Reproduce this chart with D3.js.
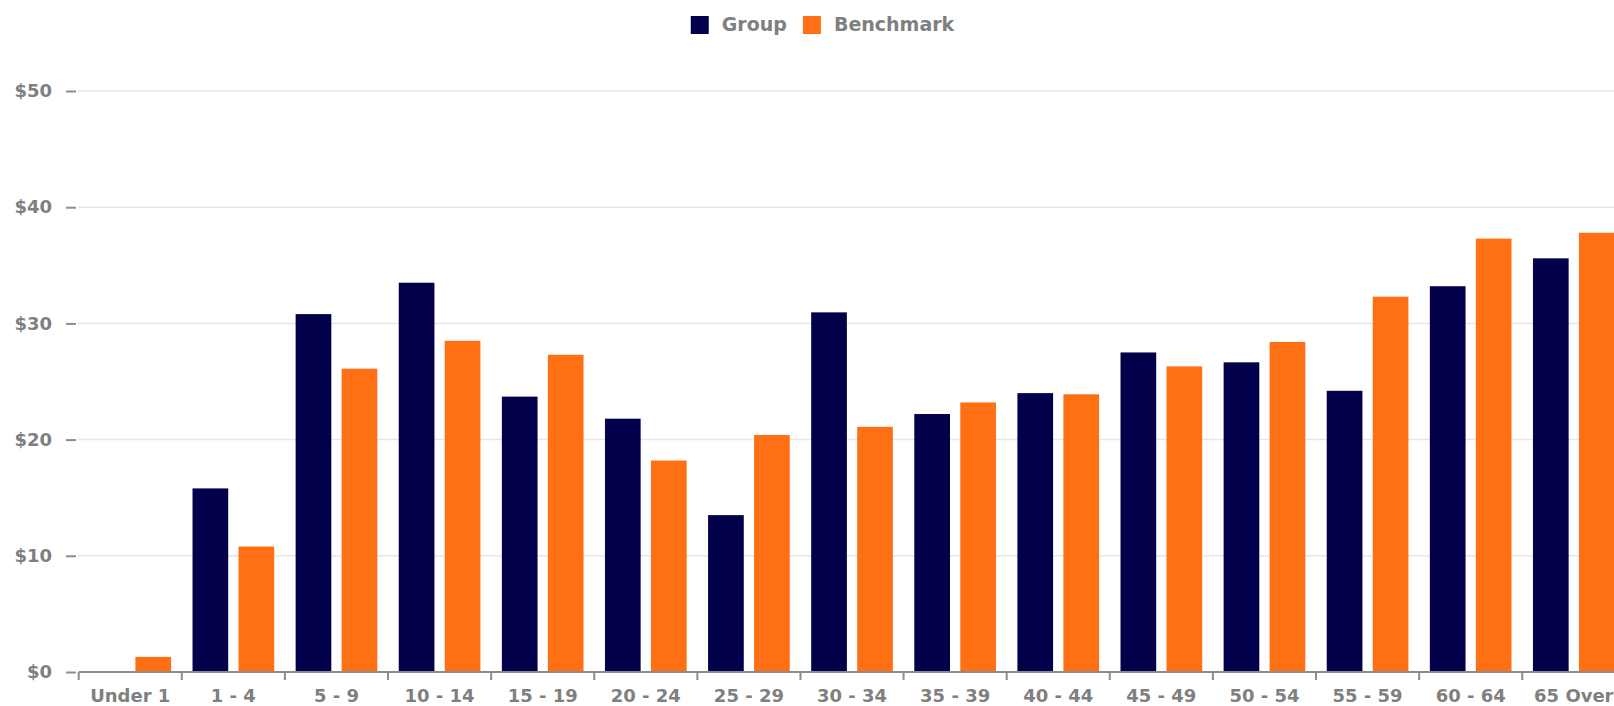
<!DOCTYPE html>
<html>
<head>
<meta charset="utf-8">
<script src="https://cdn.jsdelivr.net/npm/d3@7"></script>
<style>
  html, body { margin: 0; padding: 0; background: #fff; }
  svg { display: block; }
  .lbl { fill: #7f7f7f; font-family: "DejaVu Sans", Verdana, sans-serif; font-weight: bold; font-size: 18px; }
  .leg { font-size: 19px; }
</style>
</head>
<body>
<div id="chart"></div>
<script>
// age bands and cost per member
const AGE_BANDS = ["Under 1", "1 - 4", "5 - 9", "10 - 14", "15 - 19", "20 - 24", "25 - 29",
                   "30 - 34", "35 - 39", "40 - 44", "45 - 49", "50 - 54", "55 - 59", "60 - 64", "65 Over"];
const GROUP     = [0, 15.8, 30.8, 33.5, 23.7, 21.8, 13.5, 30.95, 22.2, 24.0, 27.5, 26.65, 24.2, 33.2, 35.6];
const BENCHMARK = [1.3, 10.8, 26.1, 28.5, 27.3, 18.2, 20.4, 21.1, 23.2, 23.9, 26.3, 28.4, 32.3, 37.3, 37.8];
const Y_TICKS   = [0, 10, 20, 30, 40, 50];
const SERIES    = [
  { key: "group", name: "Group",     color: "#02004a", values: GROUP },
  { key: "bench", name: "Benchmark", color: "#ff7014", values: BENCHMARK }
];

const W = 1614, H = 706;
const left = 78.7, step = 103.11;   // band width; last band runs past the right edge
const y0 = 672, yTop = 91;

const svg = d3.select("#chart").append("svg")
    .attr("width", W).attr("height", H);

const x0 = d3.scaleBand().domain(AGE_BANDS)
    .range([left, left + step * AGE_BANDS.length]).padding(0);
const x1 = d3.scaleBand().domain(SERIES.map(s => s.key))
    .range([0, x0.bandwidth()]).paddingInner(0.224).paddingOuter(0.233);
const y = d3.scaleLinear().domain([0, 50]).range([y0, yTop]);

// gridlines
svg.append("g").selectAll("line")
  .data(Y_TICKS.filter(d => d > 0))
  .join("line")
    .attr("x1", 78).attr("x2", W)
    .attr("y1", d => y(d)).attr("y2", d => y(d))
    .attr("stroke", "#e6e6e6").attr("stroke-width", 1.5);

// y axis: short dashes + $ labels, no domain line
const yAxis = svg.append("g").attr("transform", "translate(76,0)")
    .call(d3.axisLeft(y).tickValues(Y_TICKS).tickSize(10).tickPadding(14)
      .tickFormat(d => "$" + d));
yAxis.attr("font-family", null).attr("font-size", null);
yAxis.select(".domain").remove();
yAxis.selectAll(".tick line").attr("stroke", "#8c8c8c").attr("stroke-width", 2);
yAxis.selectAll(".tick text").attr("class", "lbl").attr("fill", null);

// bars
const rows = AGE_BANDS.map((a, i) => ({ age: a, i }));
svg.append("g").selectAll("g")
  .data(rows)
  .join("g")
    .attr("transform", d => `translate(${x0(d.age)},0)`)
  .selectAll("rect")
  .data(d => SERIES.map(s => ({ key: s.key, color: s.color, v: s.values[d.i] })))
  .join("rect")
    .attr("x", d => x1(d.key))
    .attr("width", x1.bandwidth())
    .attr("y", d => y(d.v))
    .attr("height", d => y0 - y(d.v))
    .attr("fill", d => d.color);

// x axis line, boundary ticks and centred labels
const xa = svg.append("g");
xa.append("line")
    .attr("x1", left).attr("x2", W).attr("y1", y0).attr("y2", y0)
    .attr("stroke", "#8c8c8c").attr("stroke-width", 2);
xa.selectAll("line.tk")
  .data(AGE_BANDS)
  .join("line").attr("class", "tk")
    .attr("x1", d => x0(d)).attr("x2", d => x0(d))
    .attr("y1", y0).attr("y2", y0 + 8)
    .attr("stroke", "#8c8c8c").attr("stroke-width", 2);
xa.selectAll("text")
  .data(AGE_BANDS)
  .join("text").attr("class", "lbl")
    .attr("x", d => x0(d) + x0.bandwidth() / 2)
    .attr("y", 702)
    .attr("text-anchor", "middle")
    .text(d => d);

// legend, centred at the top
const legend = svg.append("g");
let lx = 0;
SERIES.forEach(s => {
  const g = legend.append("g").attr("transform", `translate(${lx},0)`);
  g.append("rect").attr("x", 0).attr("y", 16).attr("width", 18).attr("height", 18)
      .attr("fill", s.color);
  const t = g.append("text").attr("class", "lbl leg").attr("x", 31).attr("y", 31).text(s.name);
  lx += 31 + t.node().getComputedTextLength() + 16;
});
const legendW = lx - 16;
legend.attr("transform", `translate(${822.5 - legendW / 2},0)`);
</script>
</body>
</html>
